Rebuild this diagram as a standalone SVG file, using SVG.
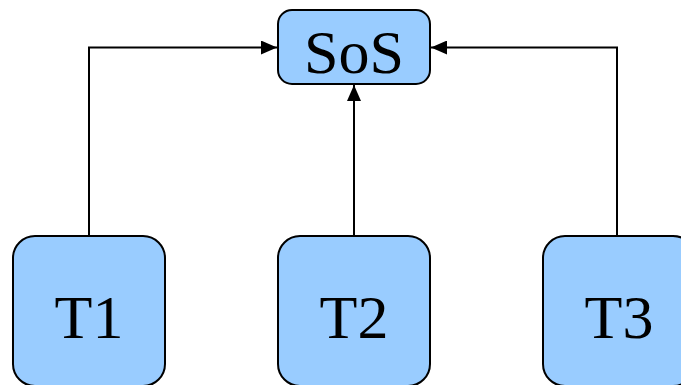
<svg xmlns="http://www.w3.org/2000/svg" width="681" height="385" viewBox="0 0 681 385">
<defs>
<style>
.node rect{fill:#99ccff;stroke:#000;stroke-width:2}
.node text{font-family:"Liberation Serif","Times New Roman",serif;font-size:62px;fill:#000;text-anchor:middle}
.conn path{fill:none;stroke:#000;stroke-width:2}
</style>
<marker id="arr" viewBox="0 0 16 14" refX="16" refY="7" markerWidth="16" markerHeight="14" markerUnits="userSpaceOnUse" orient="auto">
<path d="M0,0 L16,7 L0,14 Z" fill="#000"/>
</marker>
</defs>
<g id="connectors" class="conn">
<path d="M89,236 V47.5 H277" marker-end="url(#arr)"/>
<path d="M354,236 V85" marker-end="url(#arr)"/>
<path d="M617,236 V47.5 H431" marker-end="url(#arr)"/>
</g>
<g id="SoS" class="node">
<rect x="278" y="10" width="152" height="74" rx="14"/>
<text x="354" y="73">SoS</text>
</g>
<g id="T1" class="node">
<rect x="13" y="236" width="152" height="150" rx="22"/>
<text x="89" y="338">T1</text>
</g>
<g id="T2" class="node">
<rect x="278" y="236" width="152" height="150" rx="22"/>
<text x="354" y="338">T2</text>
</g>
<g id="T3" class="node">
<rect x="543" y="236" width="152" height="150" rx="22"/>
<text x="619" y="338">T3</text>
</g>
</svg>
